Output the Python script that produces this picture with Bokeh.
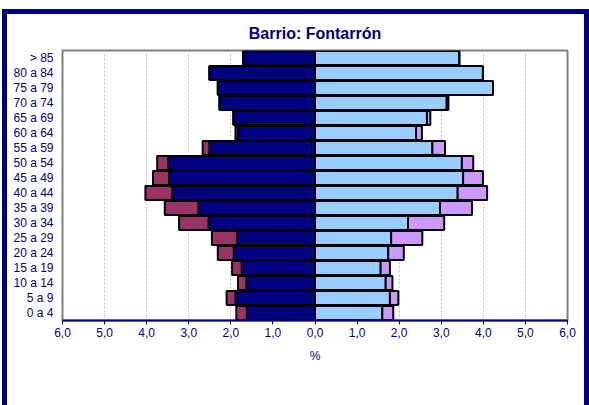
from bokeh.plotting import figure
from bokeh.models import ColumnDataSource, FixedTicker
from bokeh.embed import file_html
from bokeh.resources import INLINE

grupos = ["0 a 4", "5 a 9", "10 a 14", "15 a 19", "20 a 24", "25 a 29", "30 a 34",
          "35 a 39", "40 a 44", "45 a 49", "50 a 54", "55 a 59", "60 a 64", "65 a 69",
          "70 a 74", "75 a 79", "80 a 84", "> 85"]
hombres_esp = [1.62, 1.89, 1.63, 1.74, 1.93, 1.85, 2.53, 2.77, 3.39, 3.47, 3.49, 2.51,
               1.83, 1.94, 2.27, 2.31, 2.51, 1.71]
hombres_ext = [0.25, 0.21, 0.20, 0.23, 0.38, 0.60, 0.70, 0.80, 0.64, 0.38, 0.26, 0.16,
               0.06, 0.0, 0.0, 0.0, 0.0, 0.0]
mujeres_esp = [1.60, 1.78, 1.68, 1.56, 1.74, 1.81, 2.21, 2.97, 3.39, 3.52, 3.49, 2.79,
               2.40, 2.66, 3.13, 4.23, 3.99, 3.43]
mujeres_ext = [0.26, 0.20, 0.16, 0.22, 0.37, 0.74, 0.86, 0.76, 0.70, 0.47, 0.27, 0.30,
               0.14, 0.08, 0.04, 0.0, 0.0, 0.0]
x_ticks = [-6, -5, -4, -3, -2, -1, 0, 1, 2, 3, 4, 5, 6]
x_labels = ["6,0", "5,0", "4,0", "3,0", "2,0", "1,0", "0,0", "1,0", "2,0", "3,0", "4,0", "5,0", "6,0"]
titulo = "Barrio: Fontarrón"

NAVY = "#000080"
FONT = "Liberation Sans"

src = ColumnDataSource(dict(
    g=grupos,
    h0=[0.0] * len(grupos),
    h1=[-v for v in hombres_esp],
    h2=[-(a + b) for a, b in zip(hombres_esp, hombres_ext)],
    m1=mujeres_esp,
    m2=[a + b for a, b in zip(mujeres_esp, mujeres_ext)],
))

p = figure(width=587, height=396, y_range=grupos, x_range=(-6, 6),
           output_backend="svg", toolbar_location=None,
           min_border_left=55, min_border_right=27, min_border_top=35, min_border_bottom=90,
           margin=(9, 0, 0, 2))
p.styles = {"border-top": "5px solid #000080", "border-left": "5px solid #000080",
            "border-right": "5px solid #000080", "box-sizing": "border-box",
            "overflow": "hidden"}

p.title.text = titulo
p.title.align = "center"
p.title.text_font = FONT
p.title.text_font_size = "16px"
p.title.text_font_style = "bold"
p.title.text_color = NAVY
p.title.standoff = 17

p.outline_line_color = "#808080"
p.outline_line_width = 2

h = 0.92
kw = dict(y="g", height=h, source=src, line_color="black", line_width=2)
p.hbar(left="h1", right="h0", fill_color=NAVY, **kw)
p.hbar(left="h2", right="h1", fill_color="#993366", **kw)
p.hbar(left="h0", right="m1", fill_color="#99CCFF", **kw)
p.hbar(left="m1", right="m2", fill_color="#CC99FF", **kw)

p.ygrid.grid_line_color = None
p.xgrid.grid_line_color = "#BFBFBF"
p.xgrid.grid_line_dash = "2 2"
p.xgrid.level = "underlay"

xa = p.xaxis[0]
xa.ticker = FixedTicker(ticks=x_ticks)
xa.major_label_overrides = {t: l for t, l in zip(x_ticks, x_labels)}
xa.axis_line_color = NAVY
xa.axis_line_width = 2
xa.major_tick_line_color = NAVY
xa.major_tick_out = 4
xa.major_tick_in = 0
xa.minor_tick_line_color = None
xa.major_label_text_color = NAVY
xa.major_label_text_font = FONT
xa.major_label_text_font_size = "12px"
xa.major_label_standoff = 3
xa.axis_label = "%"
xa.axis_label_text_color = NAVY
xa.axis_label_text_font = FONT
xa.axis_label_text_font_size = "12px"
xa.axis_label_text_font_style = "normal"
xa.axis_label_standoff = 9

ya = p.yaxis[0]
ya.axis_line_color = None
ya.major_tick_line_color = None
ya.major_tick_out = 0
ya.major_tick_in = 0
ya.minor_tick_line_color = None
ya.minor_tick_out = 0
ya.major_label_text_color = NAVY
ya.major_label_text_font = FONT
ya.major_label_text_font_size = "12px"
ya.major_label_standoff = 9

open("out.html", "w").write(file_html(p, INLINE))
